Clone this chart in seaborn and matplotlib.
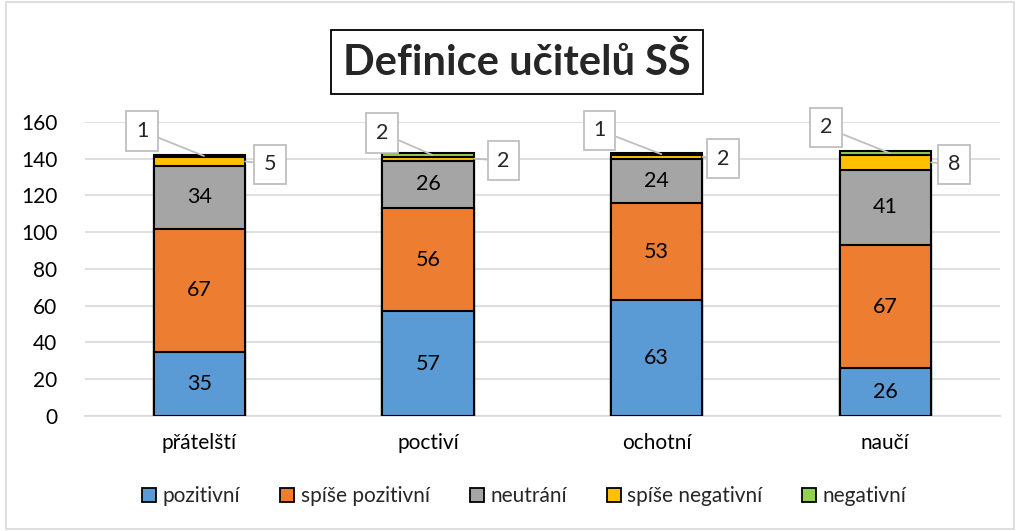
import numpy as np
import matplotlib
matplotlib.use("Agg")
import matplotlib.pyplot as plt
from matplotlib.patches import Rectangle
from matplotlib.lines import Line2D
import seaborn as sns

categories = ["přátelští", "poctiví", "ochotní", "naučí"]
series_names = ["pozitivní", "spíše pozitivní", "neutrání", "spíše negativní", "negativní"]
pozitivni = [35, 57, 63, 26]
spise_pozitivni = [67, 56, 53, 67]
neutrani = [34, 26, 24, 41]
spise_negativni = [5, 2, 2, 8]
negativni = [1, 2, 1, 2]
yticks = [0, 20, 40, 60, 80, 100, 120, 140, 160]

colors = ["#5B9BD5", "#ED7D31", "#A5A5A5", "#FFC000", "#92D050"]

sns.set_theme(style="white")
plt.rcParams["font.family"] = ["Lato", "DejaVu Sans"]

layers = np.array([pozitivni, spise_pozitivni, neutrani, spise_negativni, negativni], dtype=float)
cum = np.cumsum(layers, axis=0)

fig = plt.figure(figsize=(10.18, 5.31), dpi=100)
ax = fig.add_axes([0.0835, 0.2166, 0.8985, 0.5537])

# draw tallest stack first, then overdraw smaller cumulative sums
for i in range(len(series_names) - 1, -1, -1):
    sns.barplot(x=categories, y=cum[i], color=colors[i], width=0.4, saturation=1,
                edgecolor="black", linewidth=1.5, ax=ax, zorder=3)

ax.set_ylim(0, 160)
ax.set_xlim(-0.5, 3.5)
ax.set_yticks(yticks)
ax.yaxis.grid(True, color="#D9D9D9", linewidth=1.2, zorder=0)
ax.set_axisbelow(True)
for s in ["top", "right", "left"]:
    ax.spines[s].set_visible(False)
ax.spines["bottom"].set_color("#D9D9D9")
ax.spines["bottom"].set_linewidth(1.2)
ax.tick_params(axis="y", length=0, pad=20, labelsize=15, labelcolor="black")
ax.tick_params(axis="x", length=0, pad=12, labelsize=15, labelcolor="black")
ax.set_xlabel("")
ax.set_ylabel("")

# labels inside the three large segments
for i in range(3):
    for j in range(len(categories)):
        ymid = cum[i, j] - layers[i, j] / 2
        ax.text(j, ymid, f"{int(layers[i, j])}", ha="center", va="center",
                fontsize=15.5, color="black", zorder=5)

# callouts for the small top segments
left_off = [(-0.25, 155), (-0.2, 154), (-0.25, 155.5), (-0.26, 157)]
right_off = [(0.31, 137), (0.33, 139), (0.29, 140), (0.3, 137)]
box = dict(boxstyle="square,pad=0.45", fc="white", ec="#BFBFBF", lw=1.3)
for j in range(len(categories)):
    # negativni (top) - left box
    ax.annotate(f"{int(negativni[j])}", xy=(j + 0.02, cum[4, j] - negativni[j] / 2),
                xytext=(j + left_off[j][0], left_off[j][1]),
                ha="center", va="center", fontsize=15.5, bbox=box, zorder=6,
                arrowprops=dict(arrowstyle="-", color="#BFBFBF", lw=1.3,
                                shrinkA=0, shrinkB=0))
    # spise negativni - right box
    ax.annotate(f"{int(spise_negativni[j])}", xy=(j + 0.2, cum[3, j] - spise_negativni[j] / 2),
                xytext=(j + right_off[j][0], right_off[j][1]),
                ha="center", va="center", fontsize=15.5, bbox=box, zorder=6,
                arrowprops=dict(arrowstyle="-", color="#BFBFBF", lw=1.3,
                                shrinkA=0, shrinkB=0))

# title in a box
fig.text(0.508, 0.883, "Definice učitelů SŠ", ha="center", va="center",
         fontsize=30, fontweight="bold",
         bbox=dict(boxstyle="square,pad=0.3", fc="white", ec="black", lw=1.3))

handles = [Line2D([], [], marker="s", linestyle="", markersize=10,
                  markerfacecolor=c, markeredgecolor="black", markeredgewidth=1.3)
           for c in colors]
fig.legend(handles, series_names, loc="center", bbox_to_anchor=(0.515, 0.066), ncol=5,
           frameon=False, fontsize=15, handlelength=0.7, handletextpad=0.3,
           columnspacing=1.9)

fig.patches.append(Rectangle((0.006, 0.004), 0.99, 0.992, transform=fig.transFigure,
                             fill=False, ec="#D9D9D9", lw=1.2))

fig.savefig("out.png", dpi=100)
